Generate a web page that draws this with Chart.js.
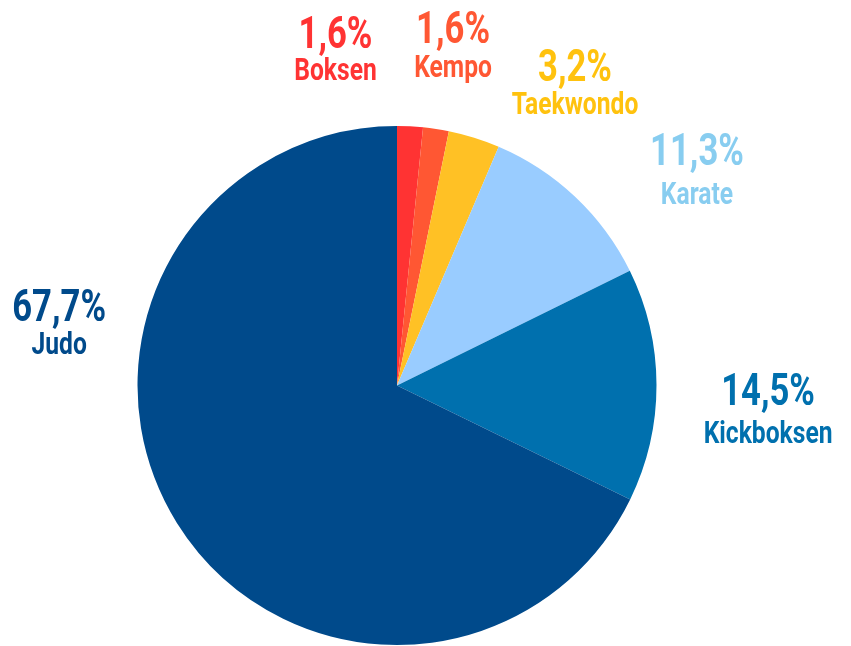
<!DOCTYPE html>
<html>
<head>
<meta charset="utf-8">
<script src="https://cdn.jsdelivr.net/npm/chart.js@4/dist/chart.umd.min.js"></script>
<style>
html,body{margin:0;padding:0;background:#fff;}
#wrap{width:851px;height:646px;position:relative;}
</style>
</head>
<body>
<div id="wrap"><canvas id="c" width="851" height="646"></canvas></div>
<script>
const categories = ["Boksen", "Kempo", "Taekwondo", "Karate", "Kickboksen", "Judo"];
const shares = [1.6, 1.6, 3.2, 11.3, 14.5, 67.7];
const sliceColors = ["#ff3333", "#ff5733", "#ffc125", "#99ccff", "#0070ae", "#004a8b"];
const textColors = ["#ff3333", "#ff5733", "#ffc20e", "#88cdf0", "#0070ae", "#004a8b"];

// label layout: [dx, baselinePct, baselineName] in units of pie radius from pie centre
const labelLayout = [
  [-0.237, -1.302, -1.179],
  [ 0.216, -1.318, -1.187],
  [ 0.686, -1.175, -1.048],
  [ 1.156, -0.848, -0.701],
  [ 1.430,  0.077,  0.220],
  [-1.302, -0.250, -0.123]
];

const fmt = v => v.toFixed(1).replace('.', ',') + '%';
const FONT = 'Roboto, "DejaVu Sans Condensed", sans-serif';
const SQUEEZE = 0.77;

function drawSqueezed(ctx, text, x, y) {
  ctx.save();
  ctx.translate(x, y);
  ctx.scale(SQUEEZE, 1);
  ctx.fillText(text, 0, 0);
  ctx.restore();
}

const labelPlugin = {
  id: 'outerLabels',
  afterDatasetsDraw(chart) {
    const ctx = chart.ctx;
    const meta = chart.getDatasetMeta(0);
    const arc0 = meta.data[0];
    const cx = arc0.x, cy = arc0.y, r = arc0.outerRadius;
    ctx.save();
    ctx.textAlign = 'center';
    ctx.textBaseline = 'alphabetic';
    meta.data.forEach((arc, i) => {
      const [dx, dyP, dyN] = labelLayout[i];
      ctx.fillStyle = textColors[i];
      ctx.font = 'bold 45px ' + FONT;
      drawSqueezed(ctx, fmt(shares[i]), cx + dx * r, cy + dyP * r);
      ctx.font = 'bold 32px ' + FONT;
      drawSqueezed(ctx, categories[i], cx + dx * r, cy + dyN * r);
    });
    ctx.restore();
  }
};

new Chart(document.getElementById('c'), {
  type: 'pie',
  data: {
    labels: categories,
    datasets: [{
      data: shares,
      backgroundColor: sliceColors,
      borderWidth: 0
    }]
  },
  options: {
    responsive: false,
    animation: false,
    layout: { padding: { top: 126, bottom: 1, left: 137, right: 194 } },
    plugins: {
      legend: { display: false },
      tooltip: { enabled: false }
    }
  },
  plugins: [labelPlugin]
});
</script>
</body>
</html>
